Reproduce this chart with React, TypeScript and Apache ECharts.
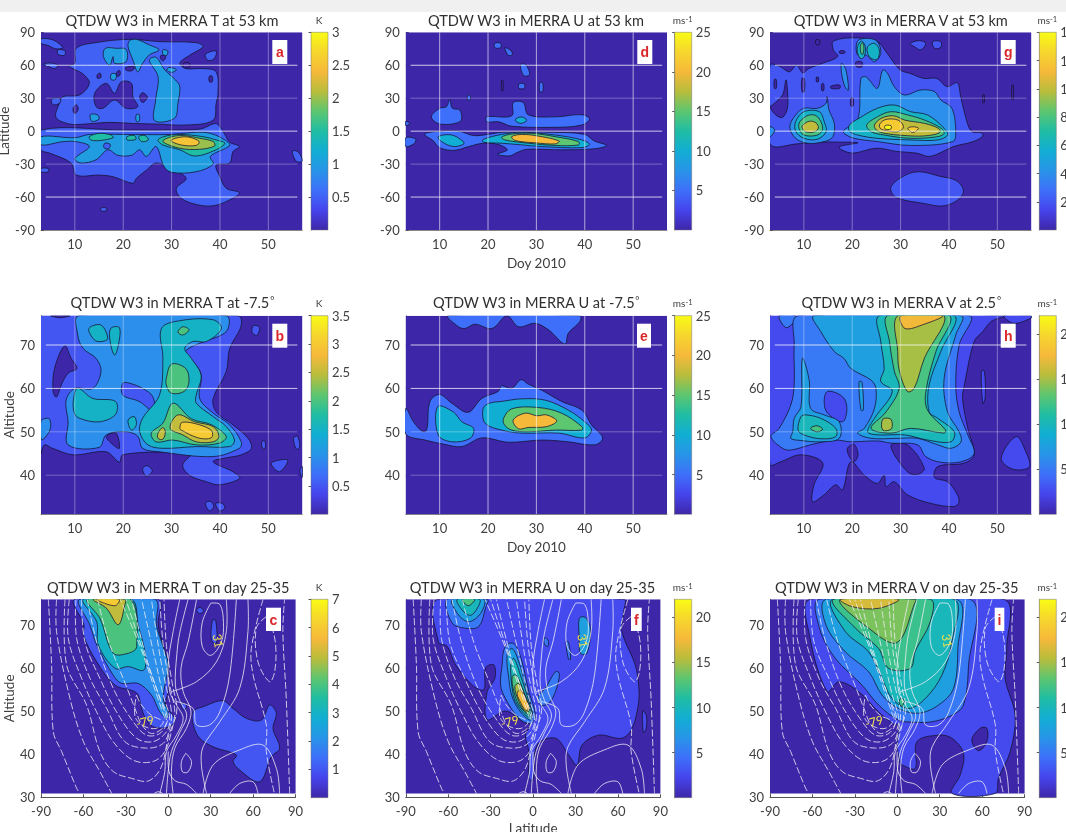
import React, { useEffect, useRef } from "react";
import * as echarts from "echarts";

type Contour = [number, number[][]];
type Line = { dashed: boolean; points: number[][] };

const FONT = "Lato";
const doyTicks = [10, 20, 30, 40, 50];
const latTicksRow1 = [-90, -60, -30, 0, 30, 60, 90];
const altTicksRow2 = [40, 50, 60, 70];
const latTicksRow3 = [-90, -60, -30, 0, 30, 60, 90];
const altTicksRow3 = [30, 40, 50, 60, 70];

const domain1 = [[3, -90], [57, -90], [57, 90], [3, 90]];
const domain2 = [[3, 31], [57, 31], [57, 76.75], [3, 76.75]];
const domain3 = [[-90, 30.9], [90, 30.9], [90, 75.9], [-90, 75.9]];

// Panel a: T at 53 km (day, latitude)
const contoursA: Contour[] = [
  [0, domain1],
  [0.5, [[6.1, 12.6], [8.9, 6.5], [12.3, 6.5], [17, 8], [22, 7], [26.8, 6.5], [33, 5.6], [38.6, 10], [39.2, 25], [39.6, 34.5], [39.2, 54], [36.5, 57], [33, 57], [31.7, 62], [33.7, 69], [36.5, 77], [35, 80.6], [27.5, 81.5], [21.3, 83.6], [14.4, 80.6], [10.3, 75.5], [10, 62], [8.9, 59], [11.7, 52], [13, 43.6], [11, 33], [7.5, 31.4], [6.8, 25.4]]],
  [0.5, [[3, 1], [20, 1], [30, 1], [36, 2], [39, 7], [40, 4], [41, -3], [42, -10], [44, -14], [42.7, -18.6], [42, -29], [39.2, -31], [40, -41.5], [41.3, -52], [44, -56], [42.7, -61], [38.6, -68], [34.4, -66], [31.7, -60], [31, -52], [33, -43], [30.3, -35], [26.8, -29], [24.8, -35.5], [22.7, -43], [22, -47.5], [17.9, -41.5], [15, -40], [10.3, -40], [9.2, -29], [4.8, -20], [3, -17]]],
  [0.5, [[3, 84], [5.5, 83], [7.5, 76], [6, 75], [4.5, 78], [3, 80]]],
  [0.5, [[6.5, 74], [8, 73], [7.8, 69], [6.5, 70]]],
  [0.5, [[3.5, 61], [5, 62], [6.5, 60], [5.8, 57], [4.5, 59]]],
  [0.5, [[5.2, 29], [6.8, 30], [7, 26], [5.5, 24]]],
  [0.5, [[15.4, -70], [16.5, -70], [16.5, -72.5], [15.4, -72.5]]],
  [0.5, [[55, -18], [56.2, -19], [57, -27], [56, -28], [55.3, -24]]],
  [0.5, [[37, 70], [39.2, 73], [38.8, 66], [37.5, 64.5]]],
  [0.5, [[3, -34], [4.5, -34], [4.5, -37], [3, -37]]],
  [0, [[14.4, 22.3], [14.1, 34.5], [16.5, 43.6], [18.2, 34.5], [19.6, 45], [21.7, 43.6], [22, 31.4], [23, 22.3], [20.6, 20.8], [18.2, 28.4], [15.8, 20.8]]],
  [0, [[23.4, 31], [24, 35], [25, 31], [24, 26]]],
  [0, [[9.6, 20], [10.3, 24], [10.7, 20], [10, 16]]],
  [0, [[14.6, 51], [15.2, 53], [15.4, 49], [14.7, 48]]],
  [0, [[18.7, 54], [19.3, 55], [19.3, 51], [18.7, 50]]],
  [0, [[20.5, 58], [22.3, 58.5], [21.8, 55], [20.6, 55.5]]],
  [0, [[27.8, 69], [28.8, 68], [28.3, 64], [27.7, 66]]],
  [0, [[37.8, 50], [38.4, 50], [38.4, 45], [37.8, 45]]],
  [0, [[32.5, 62], [33.7, 62], [33.6, 58], [32.5, 58]]],
  [1, [[3, -5], [10, -6], [13, -3], [20, -3], [30, -3], [35, -1], [38, -2], [41, -8], [42, -13], [38, -23], [38.6, -30], [35, -37], [30, -37.5], [28.4, -32], [26.8, -14], [24.8, -23], [23.4, -17], [21.7, -22], [18.9, -22], [16.8, -17], [14.4, -26], [11.3, -29], [10, -25], [13, -14], [10.3, -9.6], [7.5, -9.6], [3, -12.5]]],
  [1, [[26.5, 9.6], [26.7, 28.4], [27.2, 49.6], [25.4, 64.8], [26.8, 67.2], [28.6, 55.7], [30.8, 46.6], [31.7, 40.5], [31.3, 25.4], [30.6, 11.7]]],
  [1, [[21.3, 82.4], [22.7, 83.6], [25.4, 78.5], [27.4, 74], [25.4, 69.4], [24, 61.8], [23, 54], [22, 64.8], [21, 77]]],
  [1, [[16.3, 75.4], [18.6, 75.4], [20.6, 74.5], [20.6, 63.3], [18.2, 61.8], [17.9, 67.8], [17.2, 60], [15.9, 68]]],
  [1, [[17.5, 52], [18.5, 52], [18.4, 47], [17.5, 47]]],
  [1, [[13.2, 15], [14.6, 15], [15, 11], [13.5, 9]]],
  [1, [[22.7, 15], [23.3, 15], [23.3, 9], [22.7, 9]]],
  [1, [[29.5, 58], [31, 56], [30, 53.5], [29, 55.5]]],
  [1, [[28.2, 74], [29.2, 73], [29, 69], [28.2, 70]]],
  [0.5, [[16.2, -11], [17.3, -12], [17, -16], [16, -15]]],
  [1.5, [[13, -5], [15, -2], [17.5, -3.5], [17.9, -6], [15, -8.6], [13.3, -8]]],
  [1.5, [[20.8, -5], [22.3, -4], [22.6, -7.5], [20.8, -8]]],
  [1.5, [[23.2, -5], [24.5, -4], [25.2, -8], [23.8, -9.5]]],
  [1.5, [[27.2, -8], [28.9, -4.4], [31.7, -3], [36.5, -5], [39.2, -8], [41, -11], [39.2, -17], [34.8, -22.6], [31.7, -17], [28.2, -12.6]]],
  [2, [[28.2, -9.5], [29.6, -5.6], [32.3, -4], [35.8, -6.5], [38.6, -9.5], [38.9, -13.5], [35.8, -16.5], [31.7, -15.6]]],
  [2.5, [[29.9, -8.6], [31.7, -5.6], [33.7, -5.6], [35.7, -9.5], [35.1, -13], [32, -12.6]]],
];

// Panel d: U at 53 km
const contoursD: Contour[] = [
  [0, domain1],
  [5, [[7, -2], [10, 0], [14, 0], [17, -4], [20, -3], [23, -1], [33, -1], [40, -3], [42, -9], [44.5, -13], [42, -16], [35, -17], [28, -16.5], [26, -19.5], [24.5, -22.5], [22, -21], [24, -17], [22, -12], [19, -11], [16, -14], [13, -17.5], [10, -15], [8.5, -8], [7, -4]]],
  [5, [[3, -6], [5, -7], [4.8, -11], [3, -14]]],
  [5, [[3, 9], [3.8, 7], [3, 5]]],
  [5, [[8.3, 13], [10, 20.8], [11.4, 22.3], [12.1, 29], [12.6, 21], [14.2, 19], [14.3, 9], [10, 6.5]]],
  [5, [[19.7, 13], [24.9, 14], [25.2, 26], [27.3, 26], [28.3, 15], [33.9, 13], [39.4, 15], [41, 11], [39.4, 5.6], [33.9, 3.5], [24.9, 4.5], [22.2, 8.5], [19.7, 8.5]]],
  [5, [[21.4, 80], [22.6, 80], [22.6, 76], [21.4, 76]]],
  [5, [[23.5, 76], [24.8, 73], [25, 69.5], [24.2, 69]]],
  [5, [[26.7, 60.5], [27.8, 60.5], [28.6, 51.5], [27.4, 50.5]]],
  [5, [[26.4, 43], [27.5, 43], [27.5, 39], [26.4, 39]]],
  [5, [[30.7, 44], [31.3, 44], [31.3, 36], [30.7, 36]]],
  [5, [[15.8, 32.5], [16.3, 32.5], [16.3, 28.5], [15.8, 28.5]]],
  [0, [[22.8, 46], [23.1, 46], [23.1, 37], [22.8, 37]]],
  [10, [[9.7, -5], [12.5, -3.5], [14.9, -9.5], [14.9, -12], [12.8, -14], [10.4, -9.5]]],
  [10, [[25.6, 10], [26.8, 13], [28, 10], [26.8, 7]]],
  [10, [[19, -7.5], [22.8, -3], [27, -1], [33.9, -3.5], [39.4, -8], [41, -12], [39.4, -15], [31, -14], [27, -12.5], [22.8, -11], [19, -10]]],
  [15, [[22.8, -5.5], [24.9, -2.6], [29, -2], [33.9, -5], [38.7, -9.5], [38.7, -12.6], [33.9, -13], [28.3, -11], [23.5, -8]]],
  [20, [[24.9, -5], [27, -3], [30.4, -4.5], [34.7, -9], [33.9, -11.6], [29.7, -10.6], [25.6, -8.5]]],
];

// Panel g: V at 53 km
const contoursG: Contour[] = [
  [0, domain1],
  [2, [[3, 60], [5, 59], [7, 54], [8.5, 60], [9.8, 53], [11, 57], [14, 62], [17, 68], [16.1, 74], [16.1, 82], [21, 85], [25.2, 81.5], [27.2, 71], [29.9, 55.7], [32, 52.6], [34.8, 48], [37.5, 48], [39.6, 40.5], [41.7, 44], [42.4, 32], [43.2, 17], [44.6, 0], [46.7, -1.5], [47, -4.5], [45, -9.5], [41, -14], [36.1, -23], [33.3, -20], [29.2, -18.5], [25, -15.5], [20.2, -20], [17.8, -17], [17.4, -14], [21.2, -10.6], [17, -10], [13.5, -10], [8.8, -11.5], [3, -11.5]]],
  [0, [[3, 22.3], [4.2, 14.7], [5.6, 12.6], [6.6, 20.8], [6.6, 37.5], [6.3, 46.6], [5.6, 33], [3.5, 23.8]]],
  [2, [[32, 80], [33.9, 82.4], [35.2, 80], [34.2, 74], [32.8, 77]]],
  [2, [[36.6, 81.5], [38.3, 81.5], [38.3, 76.3], [37, 75.4]]],
  [2, [[31, -40], [34, -37], [38, -41], [41.5, -45], [43, -54], [42, -62], [39, -68], [35, -66], [29, -60], [28, -51]]],
  [0, [[17.4, 73], [18.4, 73], [18.4, 71], [17.4, 71]]],
  [0, [[20.8, 63], [22, 63], [22, 58.5], [20.8, 59]]],
  [0, [[9.6, 48], [10.1, 48], [10.1, 36], [9.6, 36]]],
  [0, [[15.6, 41], [17.4, 42], [17.4, 39], [15.6, 39]]],
  [0, [[12.6, 49], [13, 49], [13, 45], [12.6, 45]]],
  [0, [[13.7, 43], [14.1, 43], [14.1, 37], [13.7, 37]]],
  [0, [[19.7, 30], [20.2, 30], [20.2, 23], [19.7, 23]]],
  [0, [[30.8, 29], [31.3, 29], [31.3, 20], [30.8, 20]]],
  [0, [[47, 33], [47.3, 33], [47.3, 26], [47, 26]]],
  [0, [[53, 42], [53.3, 42], [53.3, 29], [53, 29]]],
  [0, [[12.5, 83], [13.2, 83], [13.2, 79], [12.5, 79]]],
  [0, [[3.9, 47], [4.3, 47], [4.3, 39], [3.9, 39]]],
  [4, [[3, 4], [4, 1], [3, -5]]],
  [4, [[17.8, 61.8], [18.7, 55.7], [19.2, 37.5], [18.5, 40.5], [17.8, 52.6]]],
  [4, [[21.1, 82], [23.2, 84.5], [25.2, 81.5], [25.9, 71], [24.6, 63.3], [22.8, 69.4], [21.1, 69.4]]],
  [4, [[18.3, 1], [21.1, 10], [21.8, 48], [22.8, 49.6], [23.5, 46.6], [25.2, 39], [26.3, 55.7], [27.3, 52.6], [28.7, 40.5], [30.8, 33], [34.2, 37.5], [37, 36], [38.3, 28.4], [40.6, 20.8], [41.4, -0.4], [40.8, -9.5], [32.1, -13], [25.2, -9.5], [20.4, -6.5], [18.3, -2]]],
  [4, [[7.1, 4], [8.3, 14.7], [10, 20.8], [12.8, 20.8], [14.6, 25.4], [14.8, 31.4], [15.2, 19.3], [16.3, 7], [16, -5], [14.2, -9.5], [10.8, -11], [8.3, -6.5]]],
  [6, [[8.3, 8.7], [10, 17.7], [13.2, 17.7], [14.2, 8.7], [14.6, -0.4], [12.8, -7.4], [10, -6.5], [8.3, 0]]],
  [6, [[19.4, 5.6], [21.4, 11.7], [25.2, 20.8], [28.7, 23.8], [32.1, 17.7], [35.6, 14.7], [39, 2.6], [39.7, -3.5], [37.7, -8], [32.1, -8], [25.2, -6.5], [21.1, -3.5], [19.4, 0]]],
  [6, [[23.2, 77], [24.6, 80], [25.6, 74], [25.2, 65.4], [23.9, 66.3], [23.2, 71]]],
  [6, [[21.1, 77], [21.9, 82], [22.7, 77], [22.5, 68], [21.8, 66], [21.2, 70]]],
  [8, [[9.2, 8.7], [11.1, 14.7], [12.8, 13.2], [13.9, 2.6], [12.8, -3.5], [10, -3.5], [9, 2.6]]],
  [8, [[23, 5.6], [25.2, 13], [28, 17.7], [31.5, 14.7], [35, 10], [38.4, 2.6], [39, -2], [37.7, -5], [32.1, -6.5], [26.6, -3.5], [23.9, -0.4]]],
  [8, [[21.7, 78], [22.1, 80.5], [22.4, 77], [22.2, 70], [21.8, 71]]],
  [10, [[9.7, 5], [11.1, 9], [12.5, 7.6], [13, 3], [12.2, -0.6], [10.4, -0.6], [9.7, 2.6]]],
  [10, [[24.6, 5.6], [26, 11.7], [28.5, 14], [30.9, 10], [35, 7], [37.8, 2.6], [38.1, -1.3], [35, -4.3], [30.9, -4], [26.8, -2], [25, 1]]],
  [12, [[25.7, 6.5], [27, 10.7], [29.5, 10], [30.6, 4], [29.5, -0.4], [27, 0.5], [25.8, 2.6]]],
  [12, [[31.5, 2.6], [32.5, 4], [33.7, 2.6], [32.5, -1.3]]],
  [14, [[26.8, 5], [28, 5], [28, 2], [26.8, 2]]],
];

// Panel b: T at -7.5 deg (day, altitude)
const contoursB: Contour[] = [
  [0, domain2],
  [0.5, [[3, 76.75], [43.7, 76.75], [44.4, 76], [44.2, 73.8], [42, 69.2], [41.3, 63.9], [38.6, 57.7], [39.2, 54.6], [42.7, 51.6], [45.8, 48.5], [46.5, 46.2], [44.4, 44.7], [41.3, 44], [38.6, 43.1], [42.7, 40.8], [44.1, 39.3], [39.9, 37.8], [37.2, 38.5], [33.7, 40], [32.3, 42.4], [34.4, 45.4], [28.9, 45.4], [19.9, 44.7], [19.2, 43], [16.5, 45.4], [9.6, 44.7], [5.4, 46.2], [3.7, 47], [3, 45]]],
  [0, [[5.5, 59.3], [5.8, 64.6], [7.9, 69.8], [9.2, 67], [10.4, 64.6], [8.6, 63.5], [7.2, 60.8], [6.2, 58]]],
  [0, [[16.5, 48.9], [18.5, 49.7], [19.2, 46.2], [17.9, 47]]],
  [0, [[5, 76.75], [9, 76.75], [7, 76.3]]],
  [0.5, [[47, 74.5], [48.2, 74], [47.6, 72.2], [46.6, 73]]],
  [0.5, [[24, 41.5], [25, 42.2], [26, 41], [24.8, 39.8]]],
  [0.5, [[37, 33.5], [38, 34], [38.7, 32.8], [37.8, 31.8]]],
  [0.5, [[39.1, 33.5], [40.5, 33.5], [41, 32.4], [39.9, 31.8]]],
  [0.5, [[48.6, 47.5], [49.2, 48], [49.4, 46.5], [48.9, 46]]],
  [0.5, [[55.2, 48.5], [56, 49], [56.5, 46.5], [55.8, 46]]],
  [0.5, [[50.6, 42.8], [54, 43.5], [52.3, 40.8]]],
  [0.5, [[56.5, 41], [57, 42], [57, 39.5]]],
  [1, [[10.8, 76.75], [10.6, 72.3], [11.7, 69.2], [14.4, 66.9], [15.4, 63.9], [13.7, 60], [10, 60], [8.2, 57.3], [8.6, 52.3], [8.6, 47], [15, 46.4], [16.5, 49.3], [20.6, 50], [23, 49], [24, 46.2], [27.5, 45.4], [38.6, 44.3], [44, 46.2], [44.4, 47.7], [42, 51.6], [38.6, 54.3], [35.8, 57.7], [36.1, 63.1], [34.4, 66.2], [32.7, 67.3], [33, 68.8], [35.8, 70.4], [41.3, 73.1], [41.3, 76.75]]],
  [1, [[3, 52.5], [4.7, 53], [4.9, 50.6], [3.5, 48.3], [3, 48.3]]],
  [0.5, [[19.9, 61.2], [21.3, 61.2], [24, 60], [26.1, 58.1], [26.4, 54.6], [23.3, 57], [19.9, 58.5]]],
  [1.5, [[12.9, 73.8], [15.4, 74.6], [16.8, 71.5], [15.4, 70.8], [14, 71.2]]],
  [1.5, [[17.4, 73.8], [19.2, 74], [19, 70], [18.2, 67.7], [17.3, 70.8]]],
  [1.5, [[9.7, 57.3], [10.6, 60], [13.7, 57.7], [18.4, 57], [18.4, 54], [15, 52.3], [11, 53.1], [9.9, 54.3]]],
  [1.5, [[21, 52.7], [22.3, 53.5], [22.7, 51.6], [21.7, 50.4]]],
  [1.5, [[27.9, 73.8], [28.2, 66.9], [27.5, 58.5], [24, 53.1], [23.4, 50], [25.1, 47], [28.2, 46.2], [35.1, 46.6], [42, 46.6], [43, 48.1], [41.3, 51.2], [38.6, 53.5], [35.1, 56.6], [35.1, 58.5], [36.1, 63], [34.1, 66.9], [32.7, 69.2], [34.4, 70.8], [37.2, 70.8], [40.3, 73.8], [38.6, 75.8], [31.7, 75.6]]],
  [2, [[31.3, 73], [32.3, 74.2], [33.6, 73.5], [32.3, 72.3]]],
  [2, [[28.9, 62.3], [30, 65.6], [32.9, 64.6], [33.6, 61.6], [32.6, 59.3], [29.9, 58.9], [28.9, 60.8]]],
  [2, [[25.8, 49.7], [28.2, 52], [30.3, 56.6], [34.1, 53], [38.3, 51.6], [41.3, 48.9], [39.9, 47.4], [35.1, 47], [30.3, 48.1], [26.8, 47.7]]],
  [2.5, [[27.2, 49.7], [28.2, 51], [28.7, 50], [28.2, 48.3], [27.2, 48.5]]],
  [2.5, [[29.7, 50.8], [31.3, 53.9], [34.8, 52.3], [38.6, 51.2], [39.8, 48.9], [38.6, 47.7], [35.1, 47.7], [32.3, 49.3]]],
  [3, [[31.7, 50.8], [32.2, 52.2], [35.8, 51.6], [38.3, 50.2], [38.2, 48.6], [35.5, 48.6], [32, 50.4]]],
];

// Panel e: U at -7.5 deg
const contoursE: Contour[] = [
  [0, domain2],
  [5, [[11.8, 76.75], [13.9, 74.2], [15.2, 73.8], [17.3, 74.8], [20.8, 73.8], [23.9, 76.75], [26.3, 74.2], [29.7, 75], [32.5, 73.5], [35.9, 70.2], [36.6, 72.7], [39, 75.4], [39, 76.75]]],
  [5, [[3, 55.4], [4.6, 52.3], [6.3, 50.2], [7.3, 50.4], [8, 57], [10, 58.6], [12.5, 56.6], [15.9, 54.5], [18.7, 57.7], [22.1, 59.3], [22.8, 60.6], [24.9, 60], [26.8, 62], [28.3, 61], [31.1, 59.6], [35.2, 57], [39.4, 55], [41.4, 51.6], [43.7, 48.6], [42.1, 47], [36.6, 47.7], [31.1, 48.1], [24.2, 47.6], [18.7, 48.6], [14.6, 46.6], [11.1, 47.1], [7, 48.1], [3, 49.5]]],
  [10, [[9.6, 55.8], [12.8, 54.6], [14.6, 52.3], [17, 50.8], [16.3, 48.5], [12.5, 47.7], [9.7, 49.3]]],
  [10, [[19, 55.4], [20.3, 56.6], [22.8, 57], [27, 57.6], [31.8, 57.3], [36.6, 55], [40, 52.3], [41.4, 50.4], [40, 48.6], [34.6, 49.7], [27, 49.7], [22.8, 50.4], [19.4, 52]]],
  [15, [[23.2, 53.1], [24.9, 55.3], [30.4, 55.6], [35.2, 54.3], [39.4, 51.2], [39.4, 50.4], [33.9, 50.4], [28.3, 50], [24.9, 50.4], [23.4, 51.6]]],
  [20, [[25.2, 52.7], [27.7, 54.3], [30.1, 53.7], [32.1, 53.9], [34.2, 52.5], [32.1, 51.2], [28.3, 51], [26.3, 50.7]]],
];

// Panel h: V at 2.5 deg
const contoursH: Contour[] = [
  [0, domain2],
  [2.5, [[3, 76.75], [51.4, 76.75], [48.7, 75.4], [47, 73.1], [45.2, 70.8], [43.2, 60.8], [42.8, 57.7], [43.9, 50.8], [45.2, 44.7], [43.2, 42.8], [37.7, 42], [37, 39.5], [39.7, 38.5], [41.4, 36.2], [42.1, 33.9], [41.1, 32.8], [36.3, 33.5], [31.4, 35.5], [28.7, 38.5], [27, 37.4], [26.6, 40], [25.2, 38.1], [22.5, 40], [19.7, 43.1], [18, 36.6], [16.6, 37.8], [14.2, 35.5], [11.8, 33.9], [12.1, 37.8], [13.9, 42.8], [9.4, 44.7], [5.2, 43.1], [3, 42.5]]],
  [2.5, [[53.9, 48.9], [50.8, 43.9], [53.2, 41.4], [56.6, 41.9], [55.9, 45.4]]],
  [2.5, [[51.4, 76.75], [53.4, 75], [57, 76.2], [57, 76.75]]],
  [2.5, [[46.7, 64], [47.3, 64], [47.5, 58], [47, 56.5]]],
  [0, [[19, 46.2], [20.4, 47.1], [21.2, 44.7], [20.4, 43.1], [19.4, 44.3]]],
  [0, [[28, 46.8], [31.4, 47], [34.9, 41.6], [33.5, 40.2], [31.4, 40.8]]],
  [5, [[4.9, 76.75], [6.3, 74], [8, 75.4], [8.3, 76.75]]],
  [5, [[8.8, 76.75], [8, 70], [8, 60.8], [7.3, 56.2], [4.9, 50.8], [3.2, 48.9], [5.6, 46.2], [7.3, 45.8], [11.4, 47], [16.3, 48.1], [19.7, 47.7], [25.2, 47.9], [28, 47.4], [33.5, 47], [35.2, 44.3], [38.3, 43], [42.5, 43.1], [45.2, 45], [43.9, 49.3], [42.1, 54.6], [41.4, 60.8], [42.1, 70], [44.2, 76.75]]],
  [2.5, [[14.2, 57], [14.9, 59.3], [18, 58.1], [18.9, 55.4], [18, 52.3], [14.9, 54.3]]],
  [7.5, [[7.7, 50], [8, 53.1], [9.4, 55.8], [9.7, 66.9], [11.1, 61.9], [11.4, 55.4], [14.2, 53.9], [17.3, 52.3], [17.3, 48.5], [13.5, 47.7], [9.4, 48], [7.3, 48.5]]],
  [7.5, [[12.1, 76.75], [13.5, 73.1], [16.3, 68.5], [18.3, 66.9], [19.7, 64.6], [23.9, 61.9], [24.9, 60], [24.6, 55.4], [22.5, 50.8], [21.1, 49.7], [23.9, 48.5], [29.4, 48.5], [33.5, 48.5], [37.7, 47], [40.4, 46.2], [42.5, 47.7], [42.1, 50], [39.7, 54.6], [39, 62.3], [41.4, 72.3], [42.5, 76.75]]],
  [7.5, [[21.4, 61.5], [22, 61.5], [22.3, 55], [21.8, 55]]],
  [10, [[8.8, 50.4], [9.4, 53.5], [10.4, 53.9], [13.5, 53.1], [16.6, 50.8], [16.6, 48.9], [13.5, 48.4], [10, 49.3]]],
  [10, [[25.6, 76.75], [25.9, 70.8], [26.6, 64.6], [25.9, 61.6], [28.3, 59.3], [24.6, 53.1], [23.2, 50], [25.2, 49.3], [30.8, 49.3], [35.6, 48.1], [40.4, 47.7], [41.1, 50], [37.7, 53.1], [35.9, 54.6], [35.9, 60.8], [38.3, 68.5], [41.1, 76.75]]],
  [12.5, [[27.3, 76.75], [27.7, 70.8], [28.7, 64], [29.7, 60], [27, 54.6], [23.9, 50.8], [28, 49.7], [32.1, 50.8], [39, 49.7], [39.3, 50.4], [35.6, 54.9], [35.2, 59.1], [37.3, 68.5], [40.1, 76.75]]],
  [12.5, [[11.4, 50.8], [12.7, 51.4], [13.9, 50.6], [12.7, 50]]],
  [15, [[29.4, 76.75], [29.4, 68.5], [29.7, 64.3], [31.4, 59.3], [32.8, 60], [34.9, 66.9], [39, 76.75]]],
  [15, [[26.3, 52.9], [28, 52.9], [28.1, 50.7], [26.3, 50.4]]],
  [17.5, [[30.1, 76.75], [30.9, 73.8], [34.9, 74.8], [38.7, 76.75]]],
];

// Panel c: T on day 25-35 (latitude, altitude)
const contoursC: Contour[] = [
  [0, domain3],
  [1, [[-66, 75.9], [-59.6, 69.9], [-60, 67.6], [-50.6, 61.4], [-37.6, 56], [-22.4, 54.2], [-18.9, 50.6], [-15.4, 47.9], [-9.5, 46.2], [1, 46.4], [4.6, 48.1], [-2, 51.4], [-0.1, 54.5], [-0.1, 60.7], [-3, 64.5], [-7.2, 69.9], [-7.2, 75.9]]],
  [1, [[17.6, 49.9], [24.6, 51], [38.7, 52.4], [45.8, 50.6], [55.2, 48.3], [65.8, 47.9], [71.6, 51.4], [76.4, 49.5], [74, 46], [78.7, 41.4], [72.8, 39.4], [64.6, 33.6], [50.5, 36.3], [45.8, 38.3], [48.1, 39.8], [31.7, 41.7], [22.2, 43.7], [17.6, 46.8]]],
  [1, [[9, 51.5], [11, 52], [13, 51], [10.5, 50.3]]],
  [1, [[20, 73.5], [22.5, 74], [25, 73.2], [22, 72.6]]],
  [1, [[31.2, 71], [33.5, 71], [34, 65.7], [30.5, 66.4]]],
  [2, [[-62.5, 75.9], [-55.4, 69.9], [-50.6, 65.3], [-38.9, 58.3], [-33, 56.4], [-21.3, 56.4], [-11.9, 53.7], [-6, 49.8], [-1.2, 48.3], [-0.1, 49.8], [-3.6, 52.9], [-0.1, 60.7], [-3.6, 64.9], [-8.4, 69.9], [-9.5, 75.9]]],
  [3, [[-60, 75.9], [-50.6, 70.7], [-49.5, 65.3], [-37.6, 59.9], [-28.3, 60.3], [-17.3, 59.5], [-16.6, 63.7], [-21.3, 69.9], [-26, 75.9]]],
  [4, [[-57.3, 75.9], [-48.4, 71.5], [-38.9, 63.4], [-28.3, 63.4], [-22.4, 64.9], [-26.7, 75.9]]],
  [5, [[-53, 75.9], [-43.7, 73.8], [-35.4, 70], [-30.7, 74.6], [-30.7, 75.9]]],
  [6, [[-50.6, 75.9], [-37.7, 74.4], [-34.7, 75.9]]],
];

// Panel f: U on day 25-35
const contoursF: Contour[] = [
  [0, domain3],
  [2.5, [[-67, 75.9], [-67, 66], [-60.7, 65], [-54.8, 60.7], [-41.9, 55.7], [-34.8, 55], [-33.6, 60], [-27.8, 60.7], [-27, 57.6], [-32.5, 54.5], [-32.5, 48], [-19.5, 50], [-7.8, 47.7], [-2, 46.8], [-5.4, 44.4], [-3, 40.6], [-3, 34.4], [0, 34], [2.8, 42.1], [15.8, 43.7], [25.2, 39.8], [31, 37.5], [34.6, 42.1], [46.4, 44.4], [62.8, 43.7], [70, 46], [74.6, 52], [74.6, 56], [72.2, 60.7], [62.8, 68.4], [64, 73], [64, 75.9]]],
  [2.5, [[77.5, 50], [80, 49], [80, 46], [78, 45]]],
  [5, [[-60.7, 75.9], [-57.2, 70.4], [-47.8, 69.2], [-38.4, 69.6], [-33.7, 73.8], [-32.5, 75.9]]],
  [5, [[-20.7, 64.1], [-17.2, 65.7], [-12.5, 65.3], [-7.8, 61.4], [-3, 54.5], [1.6, 49], [-1.9, 47.1], [-10.1, 48.3], [-19.5, 52.9], [-23, 56], [-21.9, 60.7]]],
  [5, [[3.5, 53.3], [8.7, 55.3], [15.8, 59.1], [18.6, 58.7], [15.8, 54.5], [11, 51.8], [5.2, 51.4]]],
  [5, [[8, 67], [10.5, 66.5], [10.5, 65], [8, 65.5]]],
  [5, [[23.3, 66], [25, 66], [26.5, 62], [25, 62]]],
  [7.5, [[32.7, 71.5], [36.9, 71.7], [40.5, 69.2], [38.1, 63.4], [33.4, 63.4], [32.7, 66.8]]],
  [7.5, [[-57.2, 75.9], [-52.5, 72.2], [-45.4, 70.7], [-37.2, 72.6], [-34.8, 75.9]]],
  [7.5, [[-18.4, 63], [-14.8, 64.5], [-10.1, 61.4], [-5.4, 56], [-0.7, 49.8], [-1.9, 47.9], [-8.9, 49.8], [-14.8, 53.3], [-17.2, 57.6]]],
  [10, [[-53.6, 75.9], [-50.1, 73.4], [-44.2, 72.2], [-38.8, 74.2], [-37.9, 75.9]]],
  [10, [[-15.8, 60.7], [-13.6, 62.2], [-8.9, 58.3], [-3, 52.2], [-0.7, 49], [-4.2, 48.7], [-12.5, 52.2], [-14.8, 55.3]]],
  [12.5, [[-50, 75.9], [-45.9, 74.4], [-41.2, 75.9]]],
  [12.5, [[-14.8, 58], [-11.8, 58.3], [-6.6, 54.5], [-1.9, 49.8], [-3, 49], [-10, 51.4], [-13.6, 54.5]]],
  [15, [[-12.9, 55.6], [-10.1, 56.4], [-5.4, 53.3], [-2.6, 50.2], [-5.4, 49.8], [-10.1, 52.2]]],
  [17.5, [[-11.3, 54.1], [-8.9, 54.9], [-4.2, 52.2], [-2.6, 50.6], [-5.4, 50.2], [-9.6, 52.5]]],
];

// Panel i: V on day 25-35
const contoursI: Contour[] = [
  [0, domain3],
  [2.5, [[-61.4, 75.9], [-62.1, 67.6], [-49.6, 54.5], [-41.4, 56.8], [-27.3, 54.5], [-13.2, 49.8], [-2.6, 47], [0.9, 46.8], [-0.2, 42.1], [2, 38], [3.3, 37.5], [12.7, 36.7], [13.9, 42.9], [29.2, 44.4], [38.6, 43.7], [46.8, 40.2], [44.5, 35.2], [38.6, 30.9], [69.2, 30.9], [71.5, 34.4], [79.8, 40.6], [83.3, 49], [76.2, 57.6], [77.4, 64.5], [75.1, 75.9]]],
  [0, [[52.7, 43.3], [58.6, 46], [63.3, 46], [63.3, 42.9], [57.4, 40.8]]],
  [5, [[-55, 75.9], [-55, 69.2], [-43.8, 62.2], [-24.9, 56], [-13.2, 51.4], [0.9, 47.9], [12.7, 47.4], [24.5, 47.5], [38.6, 49], [46.8, 51.4], [50.4, 60.7], [51.5, 75.9]]],
  [7.5, [[-50.4, 75.9], [-50.4, 69.9], [-36.7, 63.7], [-20.2, 59.1], [-10.8, 53.7], [0.9, 50.6], [15.1, 49.5], [29.2, 51.4], [39.8, 55.3], [42.8, 64.5], [42.1, 75.9]]],
  [10, [[-45.6, 75.9], [-36.7, 68.4], [-20.2, 63.7], [-10.8, 57.6], [-3.7, 52.9], [8, 50.6], [19.8, 52.9], [31.5, 58.3], [38.6, 66.1], [39.8, 75.9]]],
  [12, [[-44.9, 75.9], [-29.6, 69.2], [-13.2, 64.5], [-6.1, 59.9], [9.2, 59.9], [12.7, 63.9], [23.3, 70.7], [23.3, 75.9]]],
  [12, [[2.8, 53], [1.3, 52.2], [2.8, 51.1], [5, 52.2]]],
  [14, [[-40.2, 75.9], [-20.2, 69.2], [-0.2, 65.9], [12.7, 75.3], [13.2, 75.9]]],
  [16.5, [[-40.2, 75.9], [-32, 74.2], [-13.2, 73.8], [0.9, 75.9]]],
];

// Zonal wind contours overlaid on the bottom row
const windLines: Line[] = [
  { dashed: true, points: [[-84.8, 75.9], [-82.5, 60.7], [-81.3, 45.2], [-75.4, 40.6], [-64.8, 32.1], [-62.5, 30.9]] },
  { dashed: true, points: [[-79, 75.9], [-79, 68.4], [-69.5, 52.9], [-60, 42.9], [-48.4, 36], [-40, 30.9]] },
  { dashed: true, points: [[-73, 75.9], [-71.9, 60.7], [-57.8, 51.4], [-48.4, 40.6], [-39, 36], [-26, 34.4], [-14, 33.8], [-5, 37], [0, 44], [6, 50], [3, 56], [-1.3, 65], [-3, 75.9]] },
  { dashed: true, points: [[-70, 75.9], [-70.7, 66.8], [-61.3, 57.6], [-50.7, 49.8], [-39, 42.9], [-24.8, 38.6], [-10.7, 38.3], [-2.5, 40.6], [2.2, 45.2], [4.6, 49.8], [1, 56], [-3.6, 65.3], [-6, 75.9]] },
  { dashed: true, points: [[-65.3, 75.9], [-64.8, 66.8], [-55.4, 57.6], [-43.6, 50.6], [-30.7, 42.9], [-15.4, 41.4], [-3.6, 42.5], [1, 46], [2.2, 49.8], [-1.3, 55.3], [-6, 63], [-11.9, 75.9]] },
  { dashed: true, points: [[-61.3, 75.9], [-59, 66.1], [-48.4, 57.6], [-36.6, 49.8], [-22.5, 43.7], [-10.7, 42.9], [-1.3, 45.2], [1, 48.3], [-3.6, 53.7], [-9.5, 62.2], [-18.9, 75.9]] },
  { dashed: true, points: [[-57.3, 75.9], [-50.7, 66.1], [-39, 55.3], [-24.8, 47.5], [-15.4, 44.4], [-6, 44.8], [-1.3, 47.5], [-6, 52.9], [-15.4, 62.2], [-26, 75.9]] },
  { dashed: true, points: [[-50, 75.9], [-42, 66], [-30, 56], [-24, 51], [-19, 47], [-12, 44.8], [-3, 46.3], [-0.5, 48.5], [-7, 54], [-18, 64], [-30, 75.9]] },
  { dashed: true, points: [[-2.5, 48.3], [-9, 54.5], [-20, 65], [-34, 75.9]] },
  { dashed: true, points: [[-22.5, 53.7], [-19, 51.4], [-11.9, 49], [-3.6, 47.5], [-8.3, 46], [-16.6, 46.4], [-23.5, 48.7], [-22.5, 53.7]] },
  { dashed: false, points: [[-6, 30.9], [-2.5, 35.9], [-1.3, 40.6], [5.8, 44.4], [10.5, 48.3], [5.8, 51.4], [1, 54.5], [-0.1, 60.7], [3.4, 68.4], [8.1, 75.9]] },
  { dashed: false, points: [[-1.3, 30.9], [-0.1, 35.9], [2.2, 40.6], [8.1, 45], [13, 49], [8, 52.5], [5, 56], [6, 63], [8, 68], [14, 75.9]] },
  { dashed: false, points: [[3.4, 30.9], [2.2, 36], [4.6, 41.4], [12.8, 46], [16, 50], [10.5, 54.5], [9, 60], [14, 66], [20, 75.9]] },
  { dashed: false, points: [[0, 40.6], [0.5, 36], [5, 33.8], [12.8, 33], [20, 30.9]] },
  { dashed: false, points: [[2.2, 54.5], [19.9, 56.8], [34, 61.4], [41, 68.4], [41, 75.9]] },
  { dashed: false, points: [[5.8, 52.2], [17.5, 50.6], [19.9, 46.8], [29.3, 46.8], [36.4, 49.8], [43.4, 58.3], [48.1, 75.9]] },
  { dashed: false, points: [[27, 30.9], [23.4, 37.5], [24.6, 41.7], [36.4, 47.5], [50.5, 55.3], [56.3, 68.4], [56.3, 75.9]] },
  { dashed: false, points: [[24.6, 30.9], [31.7, 37.5], [50.5, 41], [67, 42.1], [76.4, 36.7], [78.7, 30.9]] },
  { dashed: false, points: [[43.4, 30.9], [50.5, 33.2], [59.9, 33.6], [63.4, 30.9]] },
  { dashed: true, points: [[85.8, 30.9], [83.4, 52.9], [81, 68.4], [82.2, 75.9]] },
  { dashed: true, points: [[67, 75.9], [58.7, 64.5], [60, 58.3], [69.3, 46.8], [69.3, 40.6], [75, 30.9]] },
  { dashed: false, points: [[30, 75], [24, 70.5], [24, 65], [30, 62.9], [37.5, 66], [39, 70.5], [36.5, 74.7], [30, 75]] },
  { dashed: true, points: [[69.3, 71.9], [62.2, 69.2], [63.4, 61.4], [71.6, 56.8], [75.2, 59.1], [75.9, 65.3], [72.8, 69.9], [69.3, 71.9]] },
  { dashed: false, points: [[12.4, 40.2], [9.3, 38.3], [10, 35.9], [14, 35.9], [16.4, 38.3], [12.4, 40.2]] },
  { dashed: false, points: [[-10, 30.9], [-7, 31.3], [-4, 30.9]] },
];
const windLabels: [string, number, number, number][] = [
  ["-79", -16.5, 47.6, -14],
  ["31", 35.2, 66.3, 80],
];

const cbTicksA = [0.5, 1, 1.5, 2, 2.5, 3];
const cbTicksB = [0.5, 1, 1.5, 2, 2.5, 3, 3.5];
const cbTicksC = [1, 2, 3, 4, 5, 6, 7];
const cbTicksD = [5, 10, 15, 20, 25];
const cbTicksF = [5, 10, 15, 20];
const cbTicksG = [2, 4, 6, 8, 10, 12, 14];

const parula: [number, string][] = [
  [0, "#3e26a8"], [0.1, "#4644ec"], [0.2, "#3e6ffa"], [0.3, "#2894e8"], [0.4, "#11aed4"],
  [0.5, "#1fbda4"], [0.6, "#5cc670"], [0.7, "#b8bd3c"], [0.8, "#f6b93a"], [0.9, "#f6d62e"], [1, "#f9fb15"],
];

function colorAt(t: number): string {
  const v = Math.max(0, Math.min(1, t));
  for (let i = 1; i < parula.length; i++) {
    if (v <= parula[i][0]) {
      const [a, ca] = parula[i - 1];
      const [b, cb] = parula[i];
      const f = (v - a) / (b - a);
      const ch = (c: string, k: number) => parseInt(c.slice(1 + k * 2, 3 + k * 2), 16);
      const mix = [0, 1, 2].map((k) => Math.round(ch(ca, k) + (ch(cb, k) - ch(ca, k)) * f));
      return `rgb(${mix.join(",")})`;
    }
  }
  return parula[parula.length - 1][1];
}

const colLefts = [41, 405.8, 770];
const colBars = [311, 674.7, 1039.3];
const rows = [
  { top: 32.3, height: 197.7, titleY: 20, unitY: 20, letterTop: 40 },
  { top: 315.7, height: 198.6, titleY: 302, unitY: 303, letterTop: 323.7 },
  { top: 599.3, height: 198, titleY: 587, unitY: 587, letterTop: 607.7 },
];

const panels = [
  { letter: "a", title: "QTDW W3 in MERRA T at 53 km", contours: contoursA, clim: 3, ticks: cbTicksA, unit: "K", col: 0, row: 0, cx: 172, letterX: 272.3, letterW: 15 },
  { letter: "b", title: "QTDW W3 in MERRA T at -7.5{s|°}", contours: contoursB, clim: 3.5, ticks: cbTicksB, unit: "K", col: 0, row: 1, cx: 172, letterX: 272.3, letterW: 15 },
  { letter: "c", title: "QTDW W3 in MERRA T on day 25-35", contours: contoursC, clim: 7, ticks: cbTicksC, unit: "K", col: 0, row: 2, cx: 168.3, letterX: 266, letterW: 15 },
  { letter: "d", title: "QTDW W3 in MERRA U at 53 km", contours: contoursD, clim: 25, ticks: cbTicksD, unit: "ms", col: 1, row: 0, cx: 536, letterX: 637.3, letterW: 15 },
  { letter: "e", title: "QTDW W3 in MERRA U at -7.5{s|°}", contours: contoursE, clim: 25, ticks: cbTicksD, unit: "ms", col: 1, row: 1, cx: 536, letterX: 637, letterW: 14 },
  { letter: "f", title: "QTDW W3 in MERRA U on day 25-35", contours: contoursF, clim: 22, ticks: cbTicksF, unit: "ms", col: 1, row: 2, cx: 532.5, letterX: 631, letterW: 10.7 },
  { letter: "g", title: "QTDW W3 in MERRA V at 53 km", contours: contoursG, clim: 14, ticks: cbTicksG, unit: "ms", col: 2, row: 0, cx: 900.8, letterX: 1000.7, letterW: 15 },
  { letter: "h", title: "QTDW W3 in MERRA V at 2.5{s|°}", contours: contoursH, clim: 22, ticks: cbTicksF, unit: "ms", col: 2, row: 1, cx: 900.8, letterX: 1000.7, letterW: 15 },
  { letter: "i", title: "QTDW W3 in MERRA V on day 25-35", contours: contoursI, clim: 22, ticks: cbTicksF, unit: "ms", col: 2, row: 2, cx: 896.7, letterX: 994.7, letterW: 9.6 },
];

function buildOption() {
  const grid: any[] = [];
  const barGrid: any[] = [];
  const xAxis: any[] = [];
  const barX: any[] = [];
  const yAxis: any[] = [];
  const barY: any[] = [];
  const series: any[] = [];
  const title: any[] = [];
  const graphic: any[] = [{ type: "rect", x: 0, y: 0, shape: { width: 1066, height: 12 }, style: { fill: "#f0f0f0" }, z: 0 }];
  const labelStyle = { color: "#404040", fontFamily: FONT, fontSize: 13 };

  panels.forEach((p, idx) => {
    const r = rows[p.row];
    const width = p.row === 2 ? 254.6 : 261.2;
    const left = colLefts[p.col];
    grid.push({ left, top: r.top, width, height: r.height, show: false, outerBoundsMode: "none" });
    const xTicks = p.row === 2 ? latTicksRow3 : doyTicks;
    const yTicks = p.row === 0 ? latTicksRow1 : p.row === 1 ? altTicksRow2 : altTicksRow3;
    const xRange = p.row === 2 ? [-90, 90] : [3, 57];
    const yRange = p.row === 0 ? [-90, 90] : p.row === 1 ? [31, 76.75] : [30, 75.9];
    const xName = p.col === 1 ? (p.row === 2 ? "Latitude" : "Doy 2010") : "";
    const yName = p.col === 0 ? (p.row === 0 ? "Latitude" : "Altitude") : "";
    xAxis.push({
      gridIndex: idx, type: "value", min: xRange[0], max: xRange[1],
      axisLine: { show: true, onZero: false, lineStyle: { color: "#555", width: p.row === 2 ? 1 : 0.7 } },
      axisTick: { show: true, inside: true, length: 3, customValues: xTicks, lineStyle: { color: "#555" } },
      axisLabel: { ...labelStyle, margin: 7, customValues: xTicks },
      splitLine: { show: false },
      name: xName, nameLocation: "middle", nameGap: p.row === 2 ? 24 : 26,
      nameTextStyle: { ...labelStyle, fontSize: 13.5 },
    });
    yAxis.push({
      gridIndex: idx, type: "value", min: yRange[0], max: yRange[1],
      axisLine: { show: true, onZero: false, lineStyle: { color: "#555", width: 0.7 } },
      axisTick: { show: true, inside: true, length: 3, customValues: yTicks, lineStyle: { color: "#555" } },
      axisLabel: { ...labelStyle, margin: 6, customValues: yTicks },
      splitLine: { show: false },
      name: yName, nameLocation: "middle", nameGap: p.row === 0 ? 27.5 : 25,
      nameTextStyle: { ...labelStyle, fontSize: 13.5 },
    });

    series.push({
      type: "custom", xAxisIndex: idx, yAxisIndex: idx, coordinateSystem: "cartesian2d",
      clip: true, silent: true, z: 2, animation: false,
      data: p.contours.map((c, k) => [k, c[0]]),
      renderItem: (params: any, api: any) => {
        const [level, pts] = p.contours[params.dataIndex];
        const points = pts.map((q) => api.coord(q));
        const isBase = params.dataIndex === 0;
        return {
          type: "polygon",
          shape: { points, smooth: isBase ? 0 : 0.35 },
          style: { fill: colorAt(level / p.clim), stroke: isBase ? "none" : "#14122e", lineWidth: 0.75 },
        };
      },
    });

    if (p.row < 2) {
      const vert = doyTicks.map((v) => ({ vertical: true, v }));
      const horiz = yTicks.filter((v) => v > yRange[0] && v < yRange[1]).map((v) => ({ vertical: false, v }));
      const lines = [...vert, ...horiz];
      const bright = p.row === 0 ? [-60, 0, 60] : [60, 70];
      series.push({
        type: "custom", xAxisIndex: idx, yAxisIndex: idx, coordinateSystem: "cartesian2d",
        clip: true, silent: true, z: 3, animation: false,
        data: lines.map((l, k) => [k, l.v]),
        renderItem: (params: any, api: any) => {
          const l = lines[params.dataIndex];
          const a = l.vertical ? api.coord([l.v, yRange[0]]) : api.coord([xRange[0] + 1, l.v]);
          const b = l.vertical ? api.coord([l.v, yRange[1]]) : api.coord([xRange[1] - 1, l.v]);
          const op = l.vertical ? (p.col === 1 ? 0.6 : 0.35) : bright.includes(l.v) ? 0.75 : 0.3;
          return { type: "line", shape: { x1: a[0], y1: a[1], x2: b[0], y2: b[1] }, style: { stroke: "#ffffff", opacity: op, lineWidth: 1 } };
        },
      });
    } else {
      series.push({
        type: "custom", xAxisIndex: idx, yAxisIndex: idx, coordinateSystem: "cartesian2d",
        clip: true, silent: true, z: 3, animation: false,
        data: windLines.map((l, k) => [k, k]),
        renderItem: (params: any, api: any) => {
          const l = windLines[params.dataIndex];
          return {
            type: "polyline",
            shape: { points: l.points.map((q) => api.coord(q)), smooth: 0.35 },
            style: { fill: "none", stroke: "rgba(238,238,245,0.8)", lineWidth: 1, lineDash: l.dashed ? [7, 2.5] : null },
          };
        },
      });
      series.push({
        type: "custom", xAxisIndex: idx, yAxisIndex: idx, coordinateSystem: "cartesian2d",
        clip: true, silent: true, z: 4, animation: false,
        data: windLabels.map((l, k) => [l[1], l[2], k]),
        renderItem: (params: any, api: any) => {
          const l = windLabels[params.dataIndex];
          const c = api.coord([l[1], l[2]]);
          return {
            type: "text", x: c[0], y: c[1], rotation: (-l[3] * Math.PI) / 180,
            style: { text: l[0], fill: "#f2e24a", fontFamily: FONT, fontSize: 12, align: "center", verticalAlign: "middle" },
          };
        },
      });
    }

    const cb = panels.length + idx;
    barGrid.push({ left: colBars[p.col], top: r.top, width: 17, height: p.row === 2 ? r.height + 0.4 : r.height, show: false, outerBoundsMode: "none" });
    barX.push({ gridIndex: cb, type: "value", min: 0, max: 1, show: false });
    barY.push({
      gridIndex: cb, type: "value", position: "right", min: 0, max: p.clim,
      axisLine: { show: true, lineStyle: { color: "#666", width: 0.7 } },
      axisTick: { show: true, inside: true, length: 2.5, customValues: p.ticks, lineStyle: { color: "#555" } },
      axisLabel: { ...labelStyle, margin: 4, customValues: p.ticks },
      splitLine: { show: false },
    });
    series.push({
      type: "custom", xAxisIndex: cb, yAxisIndex: cb, coordinateSystem: "cartesian2d",
      clip: false, silent: true, z: 2, animation: false,
      data: [[0, 0, 1, p.clim]],
      renderItem: (_: any, api: any) => {
        const a = api.coord([api.value(0), api.value(3)]);
        const b = api.coord([api.value(2), api.value(1)]);
        return {
          type: "rect",
          shape: { x: a[0], y: a[1], width: b[0] - a[0], height: b[1] - a[1] },
          style: {
            fill: new echarts.graphic.LinearGradient(0, 1, 0, 0, parula.map(([offset, color]) => ({ offset, color }))),
            stroke: "#777", lineWidth: 0.5,
          },
        };
      },
    });

    title.push({
      text: p.title, left: p.cx, top: r.titleY - 7.5, textAlign: "center", padding: 0,
      textStyle: {
        color: "#303030", fontFamily: FONT, fontSize: 14.6, fontWeight: "normal",
        rich: { s: { fontFamily: FONT, fontSize: 10, color: "#303030", verticalAlign: "top", lineHeight: 16 } },
      },
    });

    graphic.push({
      type: "text", x: colBars[p.col] + 8, y: r.unitY, z: 5,
      style: p.unit === "K"
        ? { text: "K", fill: "#404040", fontFamily: FONT, fontSize: 10, align: "center", verticalAlign: "middle" }
        : {
            text: "ms{u|-1}", fill: "#404040", fontFamily: FONT, fontSize: 10, align: "center", verticalAlign: "middle",
            rich: { u: { fontSize: 7.5, fontFamily: FONT, fill: "#404040", verticalAlign: "top", lineHeight: 10 } },
          },
    });
    graphic.push({
      type: "rect", x: p.letterX, y: r.letterTop, z: 6,
      shape: { width: p.letterW, height: p.row === 2 ? 23.3 : 24 }, style: { fill: "#ffffff" },
    });
    graphic.push({
      type: "text", x: p.letterX + p.letterW / 2, y: r.letterTop + 12, z: 7,
      style: { text: p.letter, fill: "#d9272b", fontFamily: "Liberation Sans", fontWeight: "bold", fontSize: 14, align: "center", verticalAlign: "middle" },
    });
  });

  return {
    animation: false, backgroundColor: "#ffffff", title,
    grid: [...grid, ...barGrid], xAxis: [...xAxis, ...barX], yAxis: [...yAxis, ...barY],
    series, graphic,
  };
}

export default function App() {
  const ref = useRef<HTMLDivElement>(null);
  useEffect(() => {
    if (!ref.current) return;
    const chart = echarts.init(ref.current, undefined, { renderer: "svg" });
    chart.setOption(buildOption() as any);
    return () => chart.dispose();
  }, []);
  return (
    <div
      ref={ref}
      style={{ position: "absolute", left: 0, top: 0, width: 1066, height: 832, overflow: "hidden", filter: "blur(0.5px)" }}
    />
  );
}
